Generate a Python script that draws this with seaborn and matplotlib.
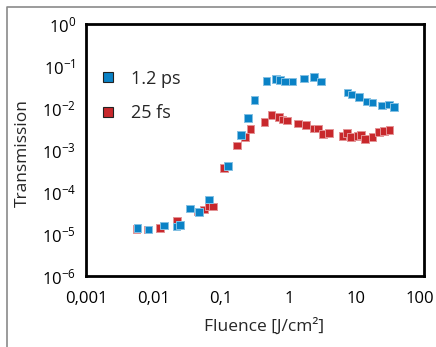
import matplotlib
matplotlib.use("Agg")
import matplotlib.pyplot as plt
import matplotlib.transforms as mtransforms
from matplotlib.lines import Line2D
import numpy as np
import pandas as pd
import seaborn as sns

# fluence [J/cm2] and transmission
fluence_ps = [0.0058, 0.0084, 0.0143, 0.022, 0.0246, 0.0345, 0.047, 0.066,
              0.127, 0.196, 0.252, 0.313, 0.471, 0.653, 0.741, 0.879, 1.14,
              1.69, 2.36, 2.99, 7.43, 8.51, 11.0, 14.2, 17.2, 23.7, 30.3, 36.0]
trans_ps = [1.41e-5, 1.28e-5, 1.59e-5, 1.53e-5, 1.66e-5, 4.05e-5, 3.38e-5, 6.63e-5,
            4.2e-4, 2.3e-3, 5.94e-3, 0.0157, 0.0445, 0.0496, 0.0477, 0.0435, 0.0435,
            0.0513, 0.0562, 0.0435, 0.0238, 0.0213, 0.0185, 0.0145, 0.0137, 0.0117,
            0.0123, 0.0109]

fluence_fs = [0.0056, 0.0082, 0.0125, 0.0224, 0.0449, 0.0557, 0.0661, 0.0764,
              0.111, 0.173, 0.225, 0.273, 0.435, 0.558, 0.723, 0.813, 0.951,
              1.38, 1.80, 2.36, 2.70, 3.24, 3.97, 6.23, 7.19, 8.32, 10.6, 11.6,
              13.4, 17.2, 21.7, 25.6, 30.7]
trans_fs = [1.33e-5, 1.28e-5, 1.41e-5, 2.13e-5, 3.43e-5, 3.83e-5, 4.59e-5, 4.59e-5,
            3.77e-4, 1.30e-3, 2.10e-3, 3.25e-3, 4.69e-3, 6.89e-3, 6.28e-3, 5.47e-3,
            5.18e-3, 4.35e-3, 3.94e-3, 3.30e-3, 3.30e-3, 2.47e-3, 2.57e-3, 2.21e-3,
            2.54e-3, 2.06e-3, 2.21e-3, 2.30e-3, 1.88e-3, 2.10e-3, 2.76e-3, 2.91e-3,
            3.08e-3]

series = ["1.2 ps", "25 fs"]
xticks = [0.001, 0.01, 0.1, 1, 10, 100]
xticklabels = ["0,001", "0,01", "0,1", "1", "10", "100"]

blue = "#0a82c6"
red = "#c8282c"

sns.set_theme(style="white")
plt.rcParams["font.family"] = ["Open Sans", "DejaVu Sans"]
plt.rcParams["mathtext.default"] = "regular"

# red drawn first so the blue squares sit on top
df = pd.concat([
    pd.DataFrame({"fluence": fluence_fs, "trans": trans_fs, "pulse": series[1]}),
    pd.DataFrame({"fluence": fluence_ps, "trans": trans_ps, "pulse": series[0]}),
])

fig = plt.figure(figsize=(4.36, 3.47), dpi=100)
ax = fig.add_axes([0.197, 0.2046, 0.7755, 0.7248])

sns.scatterplot(data=df, x="fluence", y="trans", hue="pulse",
                palette={series[0]: blue, series[1]: red},
                marker="s", s=30, linewidth=0.7,
                edgecolor=None, legend=False, ax=ax)
# lighter halo around each square
cols = ax.collections[0].get_facecolors()
halo = [np.clip(c[:3] * 0.5 + 0.5, 0, 1).tolist() + [1] for c in cols]
ax.collections[0].set_edgecolors(halo)

ax.set_xscale("log")
ax.set_yscale("log")
ax.set_xlim(0.001, 100)
ax.set_ylim(1e-6, 1)
ax.set_xticks(xticks)
ax.set_xticklabels(xticklabels)
ax.set_yticks([10.0 ** k for k in range(-6, 1)])
ax.minorticks_off()

for sp in ax.spines.values():
    sp.set_linewidth(2)
    sp.set_color("black")
ax.tick_params(axis="both", direction="out", length=4, width=1.5,
               labelsize=12, colors="black", pad=3)
ax.tick_params(axis="x", pad=7)

# last x label sits a little left, as in the original
last = ax.get_xticklabels()[-1]
last.set_transform(last.get_transform() +
                   mtransforms.ScaledTranslation(-4 / 100, 0, fig.dpi_scale_trans))

ax.set_xlabel("Fluence [J/cm²]", fontsize=12.5)
ax.set_ylabel("Transmission", fontsize=12.5)
ax.xaxis.set_label_coords(0.527, -0.165)
ax.yaxis.set_label_coords(-0.163, 0.49)

handles = [Line2D([], [], ls="none", marker="s", markersize=7,
                  markerfacecolor=c, markeredgecolor="#222222", markeredgewidth=0.8)
           for c in (blue, red)]
ax.legend(handles, series, loc="upper left", bbox_to_anchor=(-0.01, 0.885),
          frameon=False, fontsize=13, handletextpad=0.8, labelspacing=0.9,
          handlelength=1.0)

# thin grey frame of the original figure
fig.add_artist(Line2D([7 / 436, 7 / 436, 1], [0, 1 - 7 / 347, 1 - 7 / 347],
                      transform=fig.transFigure, color="#8a8a8a", lw=1.2))

fig.savefig("out.png", dpi=100)
